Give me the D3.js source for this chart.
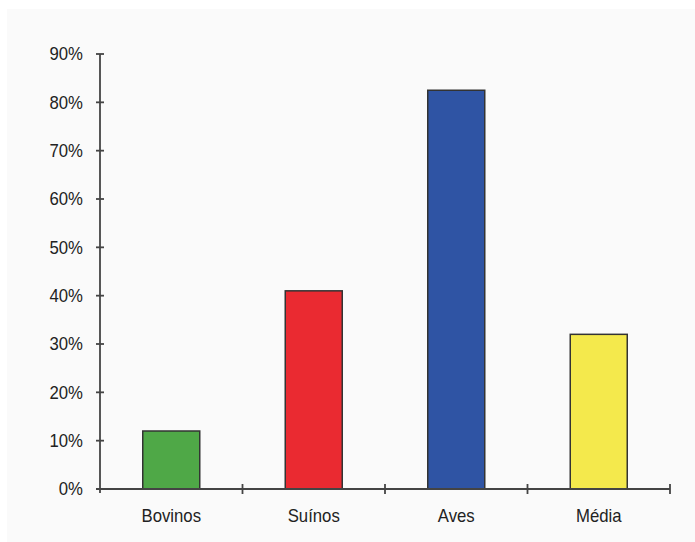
<!DOCTYPE html>
<html>
<head>
<meta charset="utf-8">
<script src="https://cdn.jsdelivr.net/npm/d3@7"></script>
<style>
  html, body { margin: 0; padding: 0; background: #ffffff; }
  svg { display: block; }
  text { font-family: "Liberation Sans", Arial, sans-serif; fill: #222; }
</style>
</head>
<body>
<svg id="chart" width="695" height="542"></svg>
<script>
// Share per category (percent)
const categories = ["Bovinos", "Suínos", "Aves", "Média"];
const values = [12, 41, 82.5, 32];
const barColors = ["#4fa847", "#ea2a31", "#2f54a4", "#f4e94c"];
const yTicks = [0, 10, 20, 30, 40, 50, 60, 70, 80, 90];

const svg = d3.select("#chart");
const W = 695, H = 542;
const margin = { left: 100, right: 25, top: 54, bottom: 53 };
const x0 = margin.left, x1 = W - margin.right;
const yTop = margin.top, yBot = H - margin.bottom;
const fontSize = 18, squeeze = 0.93;

// faint panel behind the plot
svg.append("rect")
  .attr("x", 7).attr("y", 9)
  .attr("width", W - 7).attr("height", H - 9)
  .attr("fill", "#fafafa");

const x = d3.scaleBand().domain(categories).range([x0, x1]).paddingInner(0).paddingOuter(0);
const y = d3.scaleLinear().domain([0, 90]).range([yBot, yTop]);

const barW = x.bandwidth() * 0.4;

// bars
svg.append("g").selectAll("rect")
  .data(categories)
  .join("rect")
  .attr("x", (d) => x(d) + (x.bandwidth() - barW) / 2)
  .attr("y", (d, i) => y(values[i]))
  .attr("width", barW)
  .attr("height", (d, i) => y(0) - y(values[i]))
  .attr("fill", (d, i) => barColors[i])
  .attr("stroke", "#333")
  .attr("stroke-width", 1.5);

const axisColor = "#444";

// y axis with ticks crossing the line
const yAxis = svg.append("g").attr("transform", `translate(${x0},0)`);
yAxis.append("line")
  .attr("x1", 0).attr("x2", 0)
  .attr("y1", y(90)).attr("y2", y(0) + 4)
  .attr("stroke", axisColor).attr("stroke-width", 1.8);
yAxis.selectAll("line.tick")
  .data(yTicks)
  .join("line")
  .attr("class", "tick")
  .attr("x1", -4).attr("x2", 4)
  .attr("y1", (d) => y(d)).attr("y2", (d) => y(d))
  .attr("stroke", axisColor).attr("stroke-width", 1.8);
yAxis.selectAll("text")
  .data(yTicks)
  .join("text")
  .attr("transform", (d) => `translate(-17,${y(d)}) scale(${squeeze},1)`)
  .attr("dy", "0.36em")
  .attr("text-anchor", "end")
  .attr("font-size", fontSize)
  .text((d) => d + "%");

// x axis with category boundary ticks
const xAxis = svg.append("g").attr("transform", `translate(0,${yBot})`);
xAxis.append("line")
  .attr("x1", x0 - 4).attr("x2", x1)
  .attr("y1", 0).attr("y2", 0)
  .attr("stroke", axisColor).attr("stroke-width", 1.8);
const bounds = categories.map((d) => x(d) + x.bandwidth());
xAxis.selectAll("line.tick")
  .data(bounds)
  .join("line")
  .attr("class", "tick")
  .attr("x1", (d) => d).attr("x2", (d) => d)
  .attr("y1", -5).attr("y2", 5)
  .attr("stroke", axisColor).attr("stroke-width", 1.8);
xAxis.selectAll("text")
  .data(categories)
  .join("text")
  .attr("transform", (d) => `translate(${x(d) + x.bandwidth() / 2},33) scale(${squeeze},1)`)
  .attr("text-anchor", "middle")
  .attr("font-size", fontSize)
  .text((d) => d);
</script>
</body>
</html>
